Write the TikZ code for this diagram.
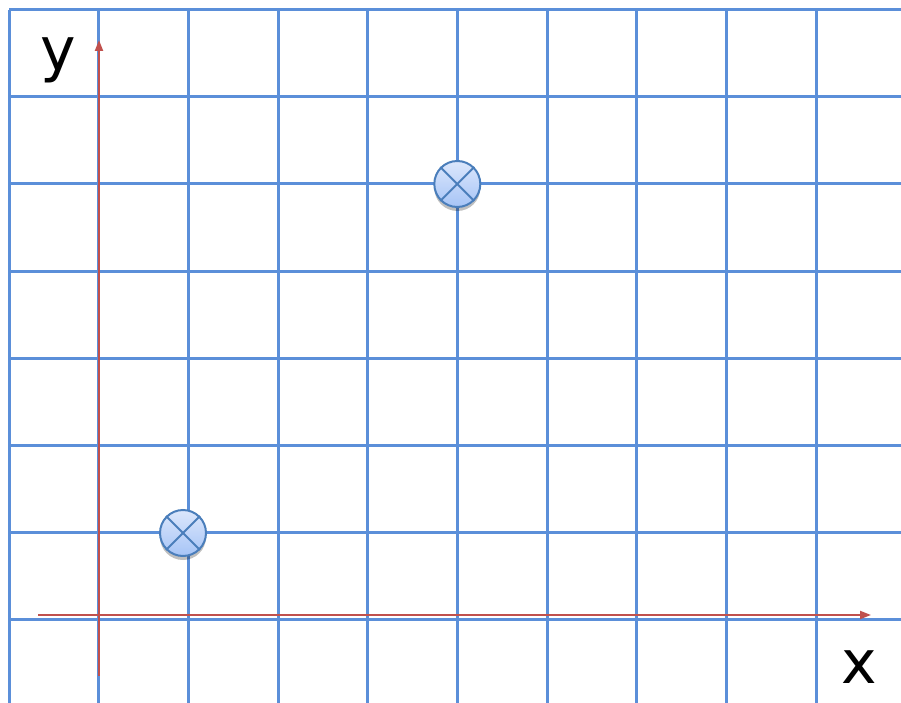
\documentclass[tikz,border=0pt]{standalone}
\usepackage{fontspec}
\setmainfont{DejaVu Sans}
\usetikzlibrary{arrows.meta,shadows}
\definecolor{gridblue}{HTML}{5B8FD9}
\definecolor{axisred}{HTML}{C0504D}
\definecolor{ptedge}{HTML}{4A7EBB}
\definecolor{pttop}{HTML}{DCE7FC}
\definecolor{ptbot}{HTML}{A6C4F6}
\tikzset{
  gridline/.style={draw=gridblue,line width=3pt},
  axisline/.style={draw=axisred,line width=2pt,-{Triangle[length=11pt,width=8pt]}},
  point/.style={circle,minimum size=46pt,inner sep=0pt,draw=ptedge,line width=2pt,
    top color=pttop,bottom color=ptbot,
    drop shadow={shadow xshift=0pt,shadow yshift=-4pt,opacity=0.25,fill=black}},
  cross/.style={draw=ptedge,line width=2pt},
  lbl/.style={font=\fontsize{60}{60}\selectfont,inner sep=0pt}
}
\begin{document}
\begin{tikzpicture}[x=1pt,y=-1pt]
\useasboundingbox (0,0) rectangle (901,703);
\begin{scope}
\clip (0,0) rectangle (901,703);
\foreach \gx in {9,98.7,188.3,278,367.7,457.3,547,636.7,726.3,816}
  \draw[gridline] (\gx,10) -- (\gx,710);
\foreach \gy in {10,97,184,271,358,445,532,619}
  \draw[gridline] (9,\gy) -- (910,\gy);
\end{scope}
\coordinate (xs) at (38,615);
\coordinate (xe) at (871,615);
\coordinate (ys) at (99,676);
\coordinate (ye) at (99,40);
\draw[axisline] (xs) -- (xe);
\draw[axisline] (ys) -- (ye);
\node[lbl] (ylab) at (58,60) {y};
\node[lbl] (xlab) at (859,667) {x};
\node[point] (p1) at (457.3,184) {};
\node[point] (p2) at (183,533) {};
\foreach \p in {p1,p2}{
  \draw[cross] (\p.north west) -- (\p.south east);
  \draw[cross] (\p.north east) -- (\p.south west);
}
\end{tikzpicture}
\end{document}
